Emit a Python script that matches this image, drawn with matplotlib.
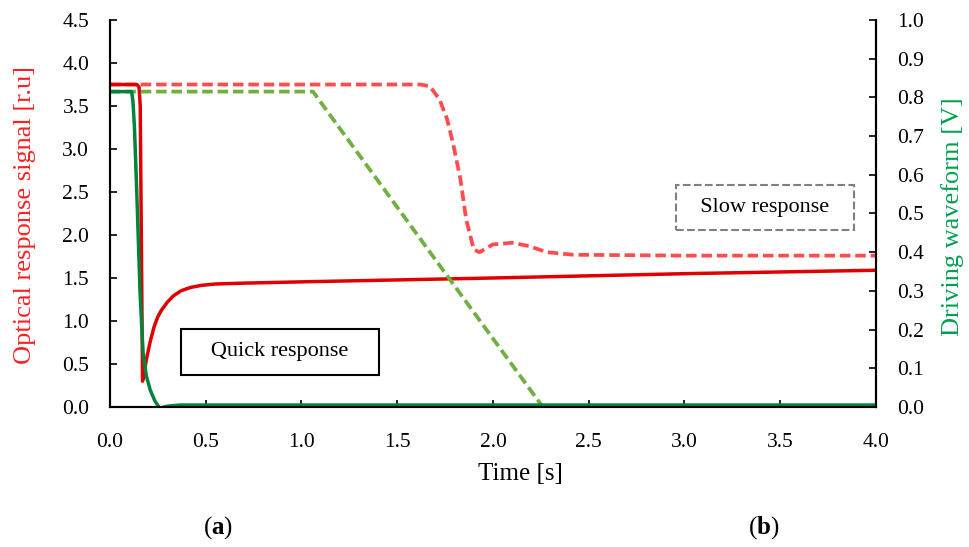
import numpy as np
import matplotlib
matplotlib.use("Agg")
import matplotlib.pyplot as plt

plt.rcParams['font.family'] = ['Liberation Serif', 'DejaVu Serif']
plt.rcParams['mathtext.fontset'] = 'custom'
plt.rcParams['mathtext.rm'] = 'Liberation Serif'
plt.rcParams['mathtext.bf'] = 'Liberation Serif:bold'

# ── Data ──────────────────────────────────────────────────
# quick optical response (left axis)
t_quick = [0.0, 0.14, 0.152, 0.158, 0.170, 0.18, 0.19, 0.21, 0.23, 0.25, 0.27, 0.30, 0.33,
           0.37, 0.42, 0.48, 0.55, 0.7, 1.0, 2.0, 3.0, 4.0]
v_quick = [3.75, 3.75, 3.72, 3.5, 0.30, 0.42, 0.55, 0.76, 0.93, 1.05, 1.13, 1.22, 1.29,
           1.35, 1.39, 1.415, 1.43, 1.44, 1.455, 1.50, 1.55, 1.59]

# slow optical response (left axis)
t_slow = [0.0, 1.62, 1.67, 1.72, 1.76, 1.79, 1.83, 1.86, 1.90, 1.93, 2.0, 2.10, 2.19,
          2.28, 2.42, 3.0, 4.0]
v_slow = [3.75, 3.75, 3.73, 3.58, 3.35, 3.08, 2.65, 2.18, 1.83, 1.80, 1.89, 1.91, 1.87,
          1.80, 1.77, 1.76, 1.76]

# quick driving waveform (right axis)
t_drv_q = [0.0, 0.113, 0.12, 0.128, 0.14, 0.157, 0.173, 0.19, 0.21, 0.235, 0.26, 0.30, 0.365, 4.0]
v_drv_q = [0.815, 0.815, 0.79, 0.72, 0.553, 0.295, 0.14, 0.08, 0.044, 0.015, -0.003, 0.002,
           0.005, 0.005]

# slow driving waveform (right axis)
t_drv_s = [0.0, 1.06, 2.26, 4.0]
v_drv_s = [0.815, 0.815, 0.0, 0.0]

xticks = np.arange(0, 4.01, 0.5)
yticks_l = np.arange(0, 4.51, 0.5)
yticks_r = np.arange(0, 1.01, 0.1)

RED = "#E00000"
RED_L = "#FF4D4D"
GRN = "#00843D"
GRN_L = "#70B040"
DASH = (0, (2.8, 1.3))

fig = plt.figure(figsize=(9.69, 5.47), dpi=100)
ax = fig.add_axes([0.1135, 0.256, 0.7905, 0.7074])
ax2 = ax.twinx()

ax.plot(t_slow, v_slow, color=RED_L, lw=2.7, ls=DASH)
ax.plot(t_quick, v_quick, color=RED, lw=2.5)
ax2.plot(t_drv_s, v_drv_s, color=GRN_L, lw=2.7, ls=DASH)
ax2.plot(t_drv_q, v_drv_q, color=GRN, lw=2.5)

ax.set_xlim(0, 4.0)
ax.set_ylim(0, 4.5)
ax2.set_ylim(0, 1.0)
ax.set_xticks(xticks)
ax.set_xticklabels([f"{v:.1f}" for v in xticks])
ax.set_yticks(yticks_l)
ax.set_yticklabels([f"{v:.1f}" for v in yticks_l])
ax2.set_yticks(yticks_r)
ax2.set_yticklabels([f"{v:.1f}" for v in yticks_r])

for a in (ax, ax2):
    a.spines['top'].set_visible(False)
    for s in a.spines.values():
        s.set_linewidth(1.5)
    a.tick_params(direction='in', length=5, width=1.2, labelsize=15.5)
ax.tick_params(axis='x', pad=19)
ax.tick_params(axis='y', pad=15)
ax2.tick_params(axis='y', pad=15)

# axis titles
fig.text(520 / 969, 1 - 474 / 547, "Time [s]", fontsize=18, ha='center', va='center')
fig.text(25 / 969, 1 - 215 / 547, "Optical response signal [r.u]", fontsize=19,
         color="#FF2020", rotation=90, ha='center', va='center')
fig.text(953 / 969, 1 - 217 / 547, "Driving waveform [V]", fontsize=19,
         color="#00A050", rotation=90, ha='center', va='center')

ax.text(0.888, 0.64, "   Quick response   ", fontsize=16, ha='center', va='center',
        bbox=dict(boxstyle='square,pad=0.6', fc='white', ec='black', lw=1.5))
ax.text(3.42, 2.32, "  Slow response  ", fontsize=16, ha='center', va='center',
        bbox=dict(boxstyle='square,pad=0.6', fc='white', ec='#808080', lw=1.5, ls='--'))

fig.text(218 / 969, 1 - 528 / 547, r"($\mathbf{a}$)", fontsize=18, ha='center', va='center')
fig.text(764 / 969, 1 - 528 / 547, r"($\mathbf{b}$)", fontsize=18, ha='center', va='center')

fig.savefig("out.png", dpi=100)
